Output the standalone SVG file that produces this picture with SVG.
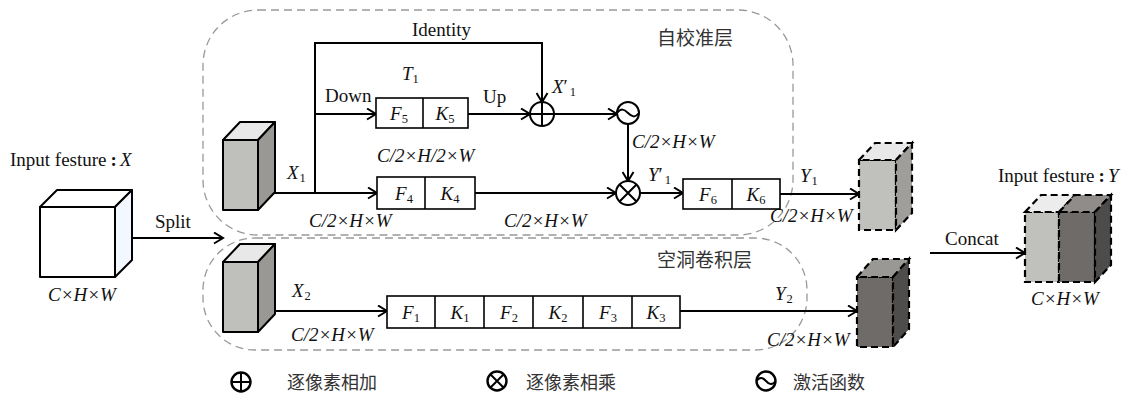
<svg xmlns="http://www.w3.org/2000/svg" width="1129" height="403" viewBox="0 0 1129 403">
<style>
.t{font-family:"Liberation Serif",serif;font-size:19px;fill:#111}
.i{font-style:italic}
.s{font-size:12.5px;font-style:normal}
.cjk{font-family:"Noto Sans CJK SC",sans-serif;font-size:19px;fill:#333}
.lg{font-family:"Noto Sans CJK SC",sans-serif;font-size:18px;fill:#333}
.ln{fill:none;stroke:#000;stroke-width:2}
.bx{fill:#fff;stroke:#000;stroke-width:1.6}
.reg{fill:none;stroke:#999;stroke-width:1.3;stroke-dasharray:8 5}
.cb{stroke:#000;stroke-width:2;stroke-linejoin:round}
.cd{stroke:#000;stroke-width:2.2;stroke-dasharray:7 4}
.sym{fill:#fff;stroke:#000;stroke-width:2}
.lsym{fill:#fff;stroke:#000;stroke-width:2.4}
</style>
<defs>
<marker id="ah" markerWidth="13" markerHeight="13" refX="11" refY="6.5" orient="auto" markerUnits="userSpaceOnUse">
<path d="M2,1 L11,6.5 L2,12" fill="none" stroke="#000" stroke-width="2"/>
</marker>
</defs>

<g id="regions">
<path class="reg" d="M258,10 H738 A55 55 0 0 1 793,65 V180 A55 55 0 0 1 738,235 H258 A55 55 0 0 1 203,180 V65 A55 55 0 0 1 258,10 Z"/>
<path class="reg" d="M255,238 H755 A52 52 0 0 1 807,290 V298 A52 52 0 0 1 755,350 H255 A52 52 0 0 1 203,298 V290 A52 52 0 0 1 255,238 Z"/>
<text class="cjk" x="657" y="45">自校准层</text>
<text class="cjk" x="657" y="267">空洞卷积层</text>
</g>

<g id="connectors">
<path class="ln" d="M132,238 H223" marker-end="url(#ah)"/>
<path class="ln" d="M266,193 H377" marker-end="url(#ah)"/>
<path class="ln" d="M315,193 V43 H542 V102" marker-end="url(#ah)"/>
<path class="ln" d="M315,114 H376" marker-end="url(#ah)"/>
<path class="ln" d="M468,114 H530" marker-end="url(#ah)"/>
<path class="ln" d="M554,114 H617" marker-end="url(#ah)"/>
<path class="ln" d="M628,124 V181" marker-end="url(#ah)"/>
<path class="ln" d="M475,193 H616" marker-end="url(#ah)"/>
<path class="ln" d="M640,193 H683" marker-end="url(#ah)"/>
<path class="ln" d="M780,194 H859" marker-end="url(#ah)"/>
<path class="ln" d="M266,311 H387" marker-end="url(#ah)"/>
<path class="ln" d="M680,311 H857" marker-end="url(#ah)"/>
<path class="ln" d="M930,253 H1025" marker-end="url(#ah)"/>
</g>

<g id="input-x">
<rect class="cb" x="40" y="207" width="75" height="70" fill="#fff"/>
<polygon class="cb" points="40,207 57,190 132,190 115,207" fill="#fff"/>
<polygon class="cb" points="115,207 132,190 132,260 115,277" fill="#f3f7ff"/>
<text class="t" x="10" y="166">Input festure<tspan font-weight="bold" dx="4">:</tspan><tspan class="i" dx="3">X</tspan></text>
<text class="t i" x="48" y="301">C×H×W</text>
<text class="t" x="155" y="228">Split</text>
</g>

<g id="cube-x1">
<rect class="cb" x="223" y="140" width="35" height="70" fill="#bfbfbb"/>
<polygon class="cb" points="223,140 240,122 275,122 258,140" fill="#e8e8e8"/>
<polygon class="cb" points="258,140 275,122 275,192 258,210" fill="#9a9894"/>
<text class="t i" x="287" y="179">X<tspan class="s" dx="1" dy="3">1</tspan></text>
<text class="t i" x="309" y="227">C/2×H×W</text>
</g>

<g id="cube-x2">
<rect class="cb" x="223" y="262" width="35" height="70" fill="#bfbfbb"/>
<polygon class="cb" points="223,262 240,244 275,244 258,262" fill="#e8e8e8"/>
<polygon class="cb" points="258,262 275,244 275,314 258,332" fill="#9a9894"/>
<text class="t i" x="292" y="297">X<tspan class="s" dx="1" dy="3">2</tspan></text>
<text class="t i" x="291" y="341">C/2×H×W</text>
</g>

<g id="labels-upper">
<text class="t" x="412" y="36">Identity</text>
<text class="t i" x="402" y="80">T<tspan class="s" dx="0" dy="3">1</tspan></text>
<text class="t" x="325" y="102">Down</text>
<text class="t" x="483" y="103">Up</text>
<text class="t i" x="552" y="93">X<tspan font-style="normal">′</tspan><tspan class="s" dx="2" dy="3">1</tspan></text>
<text class="t i" x="377" y="162">C/2×H/2×W</text>
<text class="t i" x="504" y="227">C/2×H×W</text>
<text class="t i" x="632" y="148">C/2×H×W</text>
<text class="t i" x="648" y="181">Y<tspan font-style="normal">′</tspan><tspan class="s" dx="2" dy="3">1</tspan></text>
<text class="t i" x="800" y="182">Y<tspan class="s" dx="1" dy="3">1</tspan></text>
<text class="t i" x="770" y="222">C/2×H×W</text>
</g>

<g id="box-t1">
<rect class="bx" x="376" y="98" width="92" height="30"/>
<line class="bx" x1="423" y1="98" x2="423" y2="128"/>
<text class="t i" x="399" y="120" text-anchor="middle">F<tspan class="s" dy="3">5</tspan></text>
<text class="t i" x="445" y="120" text-anchor="middle">K<tspan class="s" dy="3">5</tspan></text>
</g>

<g id="box-f4k4">
<rect class="bx" x="377" y="177" width="98" height="32"/>
<line class="bx" x1="425" y1="177" x2="425" y2="209"/>
<text class="t i" x="404" y="200" text-anchor="middle">F<tspan class="s" dy="3">4</tspan></text>
<text class="t i" x="450" y="200" text-anchor="middle">K<tspan class="s" dy="3">4</tspan></text>
</g>

<g id="box-f6k6">
<rect class="bx" x="683" y="179" width="97" height="30"/>
<line class="bx" x1="732" y1="179" x2="732" y2="209"/>
<text class="t i" x="708" y="201" text-anchor="middle">F<tspan class="s" dy="3">6</tspan></text>
<text class="t i" x="756" y="201" text-anchor="middle">K<tspan class="s" dy="3">6</tspan></text>
</g>

<g id="box-dilated">
<rect class="bx" x="387" y="296" width="293" height="32"/>
<line class="bx" x1="435" y1="296" x2="435" y2="328"/>
<line class="bx" x1="484" y1="296" x2="484" y2="328"/>
<line class="bx" x1="533" y1="296" x2="533" y2="328"/>
<line class="bx" x1="583" y1="296" x2="583" y2="328"/>
<line class="bx" x1="632" y1="296" x2="632" y2="328"/>
<text class="t i" x="411" y="319" text-anchor="middle">F<tspan class="s" dy="3">1</tspan></text>
<text class="t i" x="460" y="319" text-anchor="middle">K<tspan class="s" dy="3">1</tspan></text>
<text class="t i" x="509" y="319" text-anchor="middle">F<tspan class="s" dy="3">2</tspan></text>
<text class="t i" x="558" y="319" text-anchor="middle">K<tspan class="s" dy="3">2</tspan></text>
<text class="t i" x="608" y="319" text-anchor="middle">F<tspan class="s" dy="3">3</tspan></text>
<text class="t i" x="656" y="319" text-anchor="middle">K<tspan class="s" dy="3">3</tspan></text>
<text class="t i" x="775" y="300">Y<tspan class="s" dx="1" dy="3">2</tspan></text>
<text class="t i" x="767" y="346">C/2×H×W</text>
</g>

<g id="op-add">
<circle class="sym" cx="542" cy="114" r="12"/>
<path class="ln" d="M530,114 H554 M542,102 V126"/>
</g>
<g id="op-act">
<circle class="sym" cx="628" cy="113" r="11"/>
<path class="ln" stroke-width="1.6" d="M617,113 c4,-5 7,-4 11,0 s7,5 11,0"/>
</g>
<g id="op-mul">
<circle class="sym" cx="628" cy="193" r="12"/>
<path class="ln" d="M619.5,184.5 L636.5,201.5 M636.5,184.5 L619.5,201.5"/>
</g>

<g id="cube-y1">
<rect class="cd" x="859" y="160" width="37" height="70" fill="#c0c0bc"/>
<polygon class="cd" points="859,160 875,143 912,143 896,160" fill="#e8e8e8"/>
<polygon class="cd" points="896,160 912,143 912,213 896,230" fill="#a09e9a"/>
</g>

<g id="cube-y2">
<rect class="cd" x="857" y="277" width="36" height="70" fill="#6f6b68"/>
<polygon class="cd" points="857,277 873,259 909,259 893,277" fill="#9a9894"/>
<polygon class="cd" points="893,277 909,259 909,329 893,347" fill="#4f4d4b"/>
</g>

<g id="output-y">
<rect class="cd" x="1025" y="212" width="34" height="70" fill="#c0c0bc"/>
<rect class="cd" x="1059" y="212" width="36" height="70" fill="#6f6b68"/>
<polygon class="cd" points="1025,212 1041,195 1075,195 1059,212" fill="#ececec"/>
<polygon class="cd" points="1059,212 1075,195 1111,195 1095,212" fill="#8f8c89"/>
<polygon class="cd" points="1095,212 1111,195 1111,265 1095,282" fill="#4d4c4b"/>
<text class="t" x="998" y="182">Input festure<tspan font-weight="bold" dx="4">:</tspan><tspan class="i" dx="3">Y</tspan></text>
<text class="t" x="945" y="245">Concat</text>
<text class="t i" x="1031" y="305">C×H×W</text>
</g>

<g id="legend">
<circle class="lsym" cx="241" cy="382" r="9.5"/>
<path class="ln" stroke-width="2.4" d="M231.5,382 H250.5 M241,372.5 V391.5"/>
<text class="lg" x="287" y="389">逐像素相加</text>
<circle class="lsym" cx="497" cy="381" r="9.5"/>
<path class="ln" stroke-width="2.4" d="M490.3,374.3 L503.7,387.7 M503.7,374.3 L490.3,387.7"/>
<text class="lg" x="526" y="389">逐像素相乘</text>
<circle class="lsym" cx="766" cy="381" r="9.5"/>
<path class="ln" stroke-width="1.8" d="M756.5,381 c3,-4.5 6.5,-3.5 9.5,0 s6.5,4.5 9.5,0"/>
<text class="lg" x="793" y="389">激活函数</text>
</g>
</svg>
